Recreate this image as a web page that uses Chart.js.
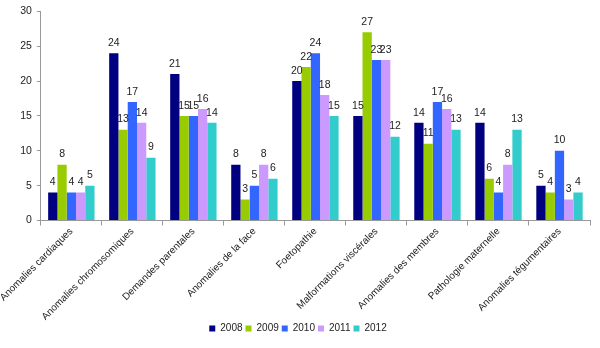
<!DOCTYPE html>
<html lang="fr">
<head>
    <meta charset="UTF-8">
    <title>Anomalies 2008-2012</title>
    <script src="https://cdn.jsdelivr.net/npm/chart.js"></script>
    <style>
        body { margin: 0; padding: 0; background: white; }
        .chart-container { width: 600px; height: 348px; position: relative; }
    </style>
</head>
<body>
    <div class="chart-container">
        <canvas id="anomChart"></canvas>
    </div>

    <script>
        // Données du graphique
        const categories = [
            'Anomalies cardiaques', 'Anomalies chromosomiques', 'Demandes parentales',
            'Anomalies de la face', 'Foetopathie', 'Malformations viscérales',
            'Anomalies des membres', 'Pathologie maternelle', 'Anomalies tégumentaires'
        ];
        const years = ['2008', '2009', '2010', '2011', '2012'];
        const values2008 = [4, 24, 21, 8, 20, 15, 14, 14, 5];
        const values2009 = [8, 13, 15, 3, 22, 27, 11, 6, 4];
        const values2010 = [4, 17, 15, 5, 24, 23, 17, 4, 10];
        const values2011 = [4, 14, 16, 8, 18, 23, 16, 8, 3];
        const values2012 = [5, 9, 14, 6, 15, 12, 13, 13, 4];
        const yTicks = [0, 5, 10, 15, 20, 25, 30];

        const colors = ['#000080', '#99CC00', '#3366FF', '#CC99FF', '#33CCCC'];
        const allValues = [values2008, values2009, values2010, values2011, values2012];
        const fontFam = '"Liberation Sans", Arial, sans-serif';

        // Petit plugin pour écrire la valeur au-dessus de chaque barre
        const barLabels = {
            id: 'barLabels',
            afterDatasetsDraw(chart) {
                const ctx = chart.ctx;
                ctx.save();
                ctx.font = '10.5px ' + fontFam;
                ctx.fillStyle = '#222';
                ctx.textAlign = 'center';
                ctx.textBaseline = 'bottom';
                chart.data.datasets.forEach((ds, i) => {
                    chart.getDatasetMeta(i).data.forEach((bar, j) => {
                        ctx.fillText(ds.data[j], bar.x, bar.y - 5);
                    });
                });
                ctx.restore();
            }
        };

        const ctx = document.getElementById('anomChart').getContext('2d');
        new Chart(ctx, {
            type: 'bar',
            data: {
                labels: categories,
                datasets: years.map((y, i) => ({
                    label: y,
                    data: allValues[i],
                    backgroundColor: colors[i],
                    borderWidth: 0,
                    categoryPercentage: 0.76,
                    barPercentage: 1.0
                }))
            },
            options: {
                responsive: true,
                maintainAspectRatio: false,
                animation: false,
                layout: { padding: { top: 4, right: 10, left: 6, bottom: 4.5 } },
                plugins: {
                    legend: {
                        position: 'bottom',
                        labels: {
                            boxWidth: 6,
                            boxHeight: 6,
                            padding: 3,
                            color: '#222',
                            font: { family: fontFam, size: 10 }
                        }
                    },
                    tooltip: { enabled: false }
                },
                scales: {
                    x: {
                        grid: { display: true, drawOnChartArea: false, offset: true, tickLength: 5, color: '#999' },
                        border: { color: '#999' },
                        afterFit: (axis) => { axis.height = 100; },
                        ticks: {
                            maxRotation: 45,
                            minRotation: 45,
                            color: '#222',
                            padding: 0,
                            font: { family: fontFam, size: 10 }
                        }
                    },
                    y: {
                        min: 0,
                        max: 30,
                        afterBuildTicks: (axis) => { axis.ticks = yTicks.map(v => ({ value: v })); },
                        grid: { display: true, drawOnChartArea: false, tickLength: 4, color: '#999' },
                        border: { color: '#999' },
                        ticks: {
                            color: '#222',
                            padding: 5,
                            font: { family: fontFam, size: 10.5 }
                        }
                    }
                }
            },
            plugins: [barLabels]
        });
    </script>
</body>
</html>
